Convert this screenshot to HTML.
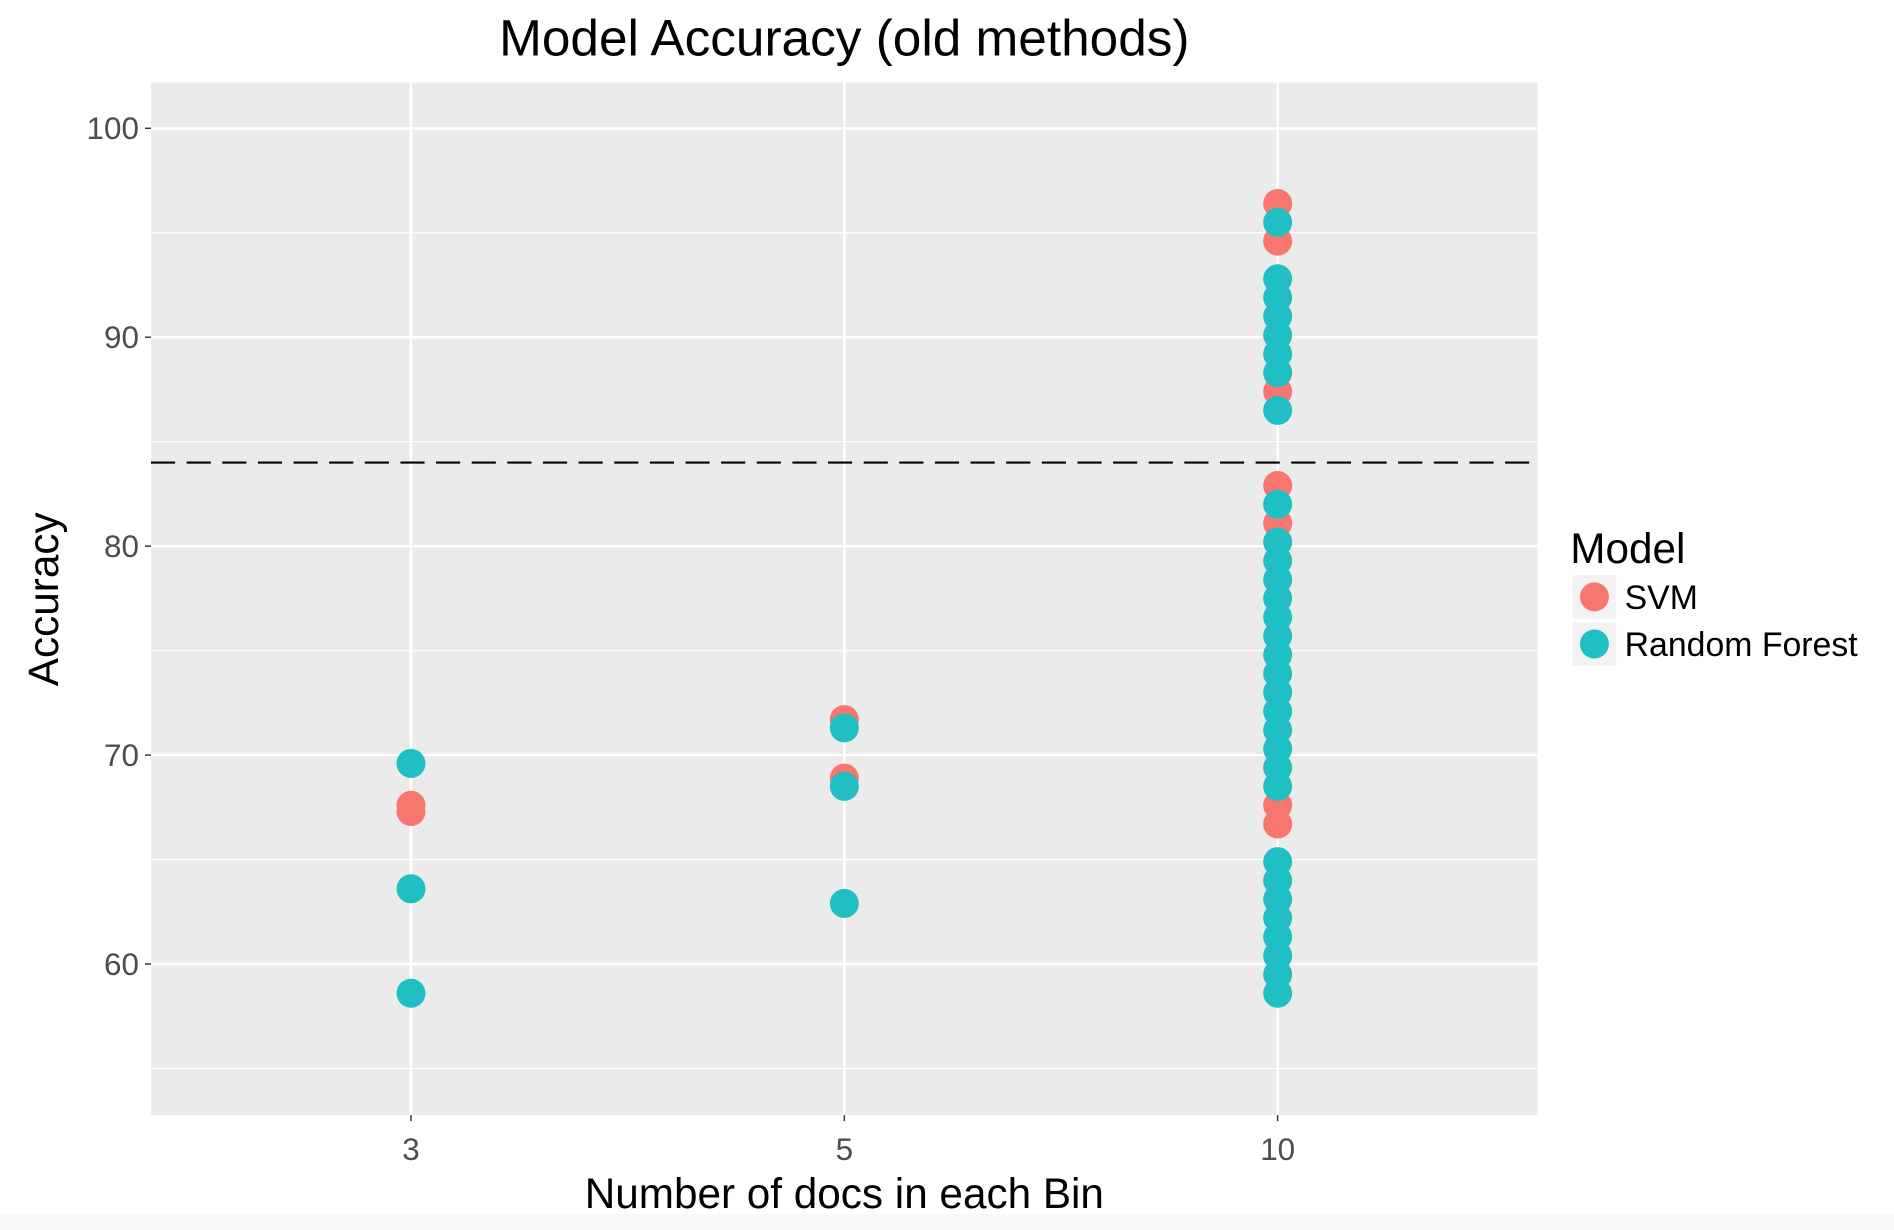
<!DOCTYPE html>
<html><head><meta charset="utf-8"><style>
html,body{margin:0;padding:0;background:#fff;width:1894px;height:1230px;overflow:hidden}
svg{display:block}
text{font-family:"Liberation Sans",sans-serif}
</style></head><body>
<svg id="chart" width="1894" height="1230" viewBox="0 0 1568 1018" xmlns="http://www.w3.org/2000/svg">
<rect x="0" y="1005" width="1568" height="13" fill="#f8f8f8"/>
<text x="699" y="46" font-size="42.5" text-anchor="middle" fill="#000">Model Accuracy (old methods)</text>
<rect x="125" y="68" width="1148" height="855" fill="#ebebeb"/>
<g id="grid"></g>
<g id="refline"></g>
<g id="points"></g>
<g id="axes"></g>
<text x="699" y="1000" font-size="35" text-anchor="middle" fill="#000">Number of docs in each Bin</text>
<text transform="translate(48,496) rotate(-90)" font-size="35" text-anchor="middle" fill="#000">Accuracy</text>
<g>
<text x="1300" y="466" font-size="35" fill="#000">Model</text>
<g>
<rect x="1302" y="476" width="36" height="36" fill="#f2f2f2"/>
<circle cx="1320" cy="494" r="12" fill="#f8766d"/>
<text x="1345" y="504" font-size="28" fill="#000">SVM</text>
</g>
<g>
<rect x="1302" y="515" width="36" height="36" fill="#f2f2f2"/>
<circle cx="1320" cy="533" r="12" fill="#20bfc4"/>
<text x="1345" y="543" font-size="28" fill="#000">Random Forest</text>
</g>
</g>
</svg>
<script>
const categories = ["3","5","10"];
const yTicks = [60,70,80,90,100];
const yMinor = [55,65,75,85,95];
const refValue = 84;
const svmX = ["3","3","5","5","10","10","10","10","10","10","10"];
const svmY = [67.6,67.3,71.7,68.9,96.4,94.6,87.4,82.9,81.1,67.6,66.7];
const rfX = ["3","3","3","5","5","5",
 "10","10","10","10","10","10","10","10",
 "10","10","10","10","10","10","10","10","10","10","10","10","10","10","10",
 "10","10","10","10","10","10","10","10"];
const rfY = [69.6,63.6,58.6,71.3,68.5,62.9,
 95.5,92.8,91.9,91.0,90.1,89.2,88.3,86.5,
 82.0,80.2,79.3,78.4,77.5,76.6,75.7,74.8,73.9,73.0,72.1,71.2,70.3,69.4,68.5,
 64.9,64.0,63.1,62.2,61.3,60.4,59.5,58.6];

const NS="http://www.w3.org/2000/svg";
const PL=125,PR=1273,PT=68,PB=923;
const yMin=52.77,yMax=102.2;
function y(v){return PB-(v-yMin)/(yMax-yMin)*(PB-PT);}
function x(c){const i=categories.indexOf(c);return PL+(i+1-0.4)/3.2*(PR-PL);}
function mk(tag,attrs,parent){const e=document.createElementNS(NS,tag);for(const k in attrs)e.setAttribute(k,attrs[k]);parent.appendChild(e);return e;}
const grid=document.getElementById('grid'),axes=document.getElementById('axes'),pts=document.getElementById('points'),ref=document.getElementById('refline');
yMinor.forEach(v=>{const l=mk('line',{x1:PL,x2:PR,y1:y(v),y2:y(v),stroke:'#fff','stroke-width':1},grid);

});
yTicks.forEach(v=>{const l=mk('line',{x1:PL,x2:PR,y1:y(v),y2:y(v),stroke:'#fff','stroke-width':2},grid);


const t=mk('line',{x1:PL-5,x2:PL,y1:y(v),y2:y(v),stroke:'#333','stroke-width':1.2},axes);


const tx=mk('text',{x:PL-10,y:y(v)+9,'font-size':26,'text-anchor':'end',fill:'#4d4d4d'},axes);tx.textContent=v;

});
categories.forEach(c=>{const l=mk('line',{x1:x(c),x2:x(c),y1:PT,y2:PB,stroke:'#fff','stroke-width':2},grid);


const t=mk('line',{x1:x(c),x2:x(c),y1:PB,y2:PB+5,stroke:'#333','stroke-width':1.2},axes);


const tx=mk('text',{x:x(c),y:PB+37,'font-size':26,'text-anchor':'middle',fill:'#4d4d4d'},axes);tx.textContent=c;

});
const rl=mk('line',{x1:PL,x2:PR,y1:y(refValue),y2:y(refValue),stroke:'#000','stroke-width':1.8,'stroke-dasharray':'20 9.5'},ref);


svmX.forEach((c,i)=>{const p=mk('circle',{cx:x(c),cy:y(svmY[i]),r:12,fill:'#f8766d'},pts);

});
rfX.forEach((c,i)=>{const p=mk('circle',{cx:x(c),cy:y(rfY[i]),r:12,fill:'#20bfc4'},pts);

});
</script>
</body></html>
